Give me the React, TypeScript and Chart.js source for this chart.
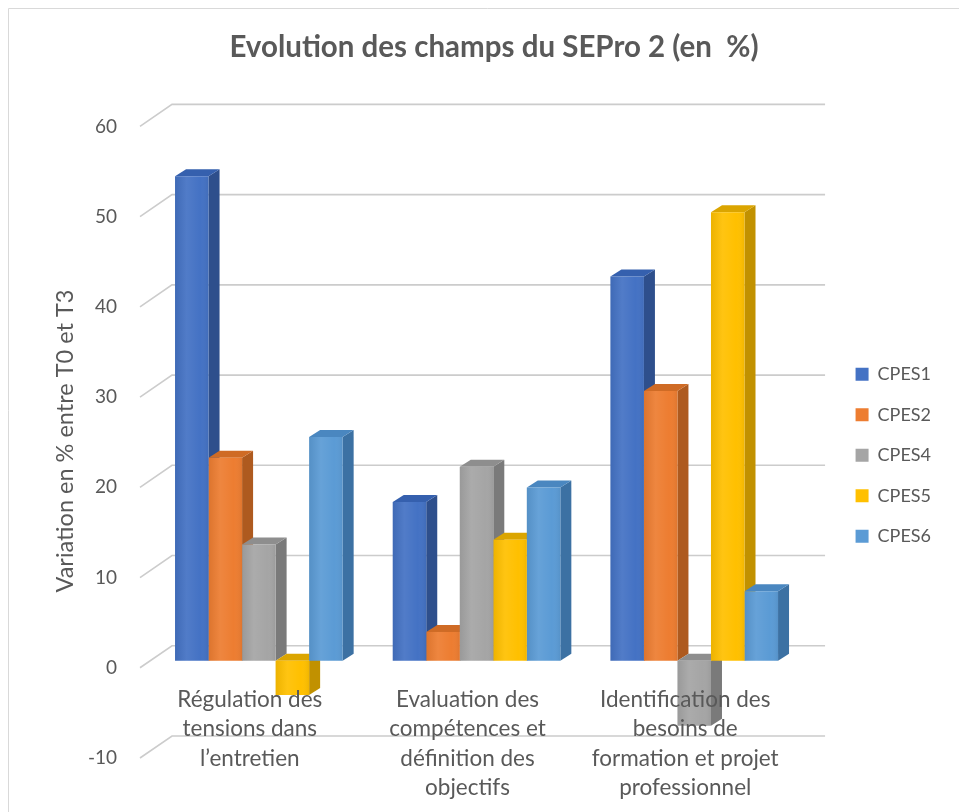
import React, { useEffect, useRef } from 'react';
import { Chart, registerables } from 'chart.js';

Chart.register(...registerables);

// ---- data ----
const categories: string[][] = [
  ['Régulation des', 'tensions dans', 'l’entretien'],
  ['Evaluation des', 'compétences et', 'définition des', 'objectifs'],
  ['Identification des', 'besoins de', 'formation et projet', 'professionnel'],
];
const seriesNames = ['CPES1', 'CPES2', 'CPES4', 'CPES5', 'CPES6'];
const cpes1 = [53.7, 17.6, 42.6];
const cpes2 = [22.5, 3.2, 29.9];
const cpes4 = [12.9, 21.5, -7.2];
const cpes5 = [-3.8, 13.4, 49.7];
const cpes6 = [24.8, 19.2, 7.7];
const yMin = -10;
const yMax = 60;
const yStep = 10;
const chartTitle = 'Evolution des champs du SEPro 2 (en  %)';
const yTitle = 'Variation en % entre T0 et T3';

// ---- styles ----
const frontColors = ['#4472C4', '#ED7D31', '#A5A5A5', '#FFC000', '#5B9BD5'];
const sideColors = ['#2E4F8C', '#AE5A1F', '#7A7A7A', '#C19100', '#3C71A3'];
const topColors = ['#3560AE', '#CF6B25', '#8E8E8E', '#DBA500', '#4A87C0'];
const textColor = '#595959';
const FONT = 'Lato';

const DX = 11, DY = 7; // bar depth
const BACK_X = 22, BACK_Y = 15; // back wall offset from bar plane
const FRONT_X = 10, FRONT_Y = 7; // front edge offset

const depthPlugin = {
  id: 'depth3d',
  beforeDatasetsDraw(chart: any) {
    const ctx = chart.ctx;
    const { left, right } = chart.chartArea;
    const ys = chart.scales.y;
    ctx.save();
    ctx.strokeStyle = '#cccccc';
    ctx.lineWidth = 1.6;
    for (const t of ys.ticks) {
      const py = ys.getPixelForValue(t.value);
      ctx.beginPath();
      ctx.moveTo(left - FRONT_X, py + FRONT_Y);
      ctx.lineTo(left + BACK_X, py - BACK_Y);
      ctx.lineTo(right + BACK_X, py - BACK_Y);
      ctx.stroke();
    }
    chart.data.datasets.forEach((ds: any, i: number) => {
      const meta = chart.getDatasetMeta(i);
      meta.data.forEach((bar: any) => {
        const { x, y, base, width } = bar.getProps(['x', 'y', 'base', 'width'], true);
        const l = x - width / 2;
        const r = x + width / 2;
        const top = Math.min(y, base);
        const bot = Math.max(y, base);
        ctx.fillStyle = sideColors[i];
        ctx.beginPath();
        ctx.moveTo(r, top);
        ctx.lineTo(r + DX, top - DY);
        ctx.lineTo(r + DX, bot - DY);
        ctx.lineTo(r, bot);
        ctx.closePath();
        ctx.fill();
        ctx.fillStyle = topColors[i];
        ctx.beginPath();
        ctx.moveTo(l, top);
        ctx.lineTo(l + DX, top - DY);
        ctx.lineTo(r + DX, top - DY);
        ctx.lineTo(r, top);
        ctx.closePath();
        ctx.fill();
      });
    });
    ctx.restore();
  },
  afterDatasetsDraw(chart: any) {
    const ctx = chart.ctx;
    ctx.save();
    chart.data.datasets.forEach((ds: any, i: number) => {
      const meta = chart.getDatasetMeta(i);
      meta.data.forEach((bar: any) => {
        const { x, y, base, width } = bar.getProps(['x', 'y', 'base', 'width'], true);
        const l = x - width / 2;
        const top = Math.min(y, base);
        const h = Math.abs(base - y);
        const g = ctx.createLinearGradient(l, 0, l + width, 0);
        g.addColorStop(0, 'rgba(0,0,0,0.07)');
        g.addColorStop(0.35, 'rgba(255,255,255,0.07)');
        g.addColorStop(0.75, 'rgba(255,255,255,0.0)');
        g.addColorStop(1, 'rgba(0,0,0,0.06)');
        ctx.fillStyle = g;
        ctx.fillRect(l, top, width, h);
      });
    });
    ctx.restore();
  },
  afterDraw(chart: any) {
    const ctx = chart.ctx;
    ctx.save();
    // frame
    ctx.strokeStyle = '#d9d9d9';
    ctx.lineWidth = 1;
    ctx.beginPath();
    ctx.moveTo(0.5, chart.height);
    ctx.lineTo(0.5, 0.5);
    ctx.lineTo(chart.width, 0.5);
    ctx.stroke();
    // y axis title
    ctx.fillStyle = textColor;
    ctx.font = `23.5px ${FONT}`;
    ctx.textAlign = 'center';
    ctx.textBaseline = 'middle';
    ctx.translate(57, 433);
    ctx.rotate(-Math.PI / 2);
    ctx.fillText(yTitle, 0, 0);
    ctx.restore();
  },
};

export default function App() {
  const ref = useRef<HTMLCanvasElement>(null);
  useEffect(() => {
    document.body.style.overflow = 'hidden';
    const series = [cpes1, cpes2, cpes4, cpes5, cpes6];
    const chart = new Chart(ref.current!, {
      type: 'bar',
      data: {
        labels: categories,
        datasets: series.map((d, i) => ({
          label: seriesNames[i],
          data: d,
          backgroundColor: frontColors[i],
          borderWidth: 0,
          categoryPercentage: 0.77,
          barPercentage: 1,
        })),
      },
      options: {
        responsive: false,
        animation: false,
        layout: { padding: { left: 39, right: 26, top: 0, bottom: 61 } },
        plugins: {
          title: {
            display: true,
            text: chartTitle,
            color: textColor,
            font: { family: FONT, size: 29.5, weight: 'bold', lineHeight: 1.2 },
            padding: { top: 22, bottom: 54 },
          },
          legend: {
            position: 'right',
            fullSize: false,
            align: 'center',
            title: { display: true, text: '', padding: 12.8 },
            labels: {
              boxWidth: 13,
              boxHeight: 13,
              padding: 22.5,
              color: textColor,
              font: { family: FONT, size: 18 },
            },
          },
          tooltip: { enabled: false },
        },
        scales: {
          x: {
            axis: 'x',
            position: { y: 0 } as any,
            grid: { display: false },
            border: { display: false },
            ticks: {
              z: 1,
              color: textColor,
              font: { family: FONT, size: 22.5, lineHeight: 1.31 },
              padding: 16,
              labelOffset: -9,
              maxRotation: 0,
              autoSkip: false,
            },
          },
          y: {
            min: yMin,
            max: yMax,
            grid: { display: false, drawTicks: false },
            border: { display: false },
            ticks: {
              stepSize: yStep,
              color: textColor,
              font: { family: FONT, size: 19 },
              padding: 33,
              labelOffset: 7,
            },
            afterFit: (s: any) => { s.width = 103; },
          },
          yd: {
            type: 'linear',
            position: 'right',
            display: true,
            grid: { display: false },
            border: { display: false },
            ticks: { display: false },
            afterFit: (s: any) => { s.width = 30; },
          },
        },
      } as any,
      plugins: [depthPlugin],
    });
    return () => chart.destroy();
  }, []);
  return (
    <div style={{ width: 959, height: 804, background: '#fff' }}>
      <canvas ref={ref} width={959} height={804} style={{ display: 'block' }} />
    </div>
  );
}
